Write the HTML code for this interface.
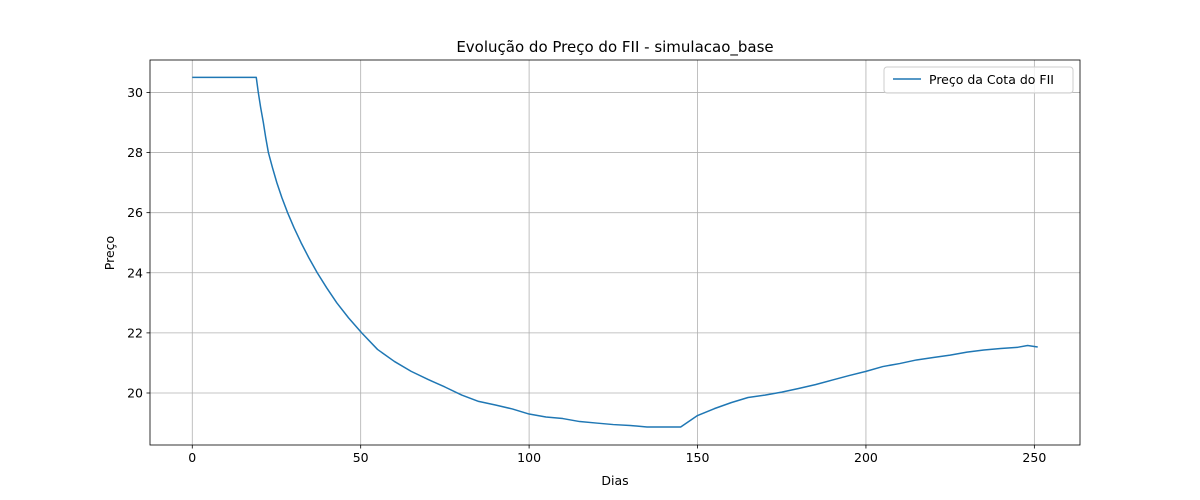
<!DOCTYPE html>
<html><head><meta charset="utf-8"><style>body{margin:0;background:#fff}svg{display:block;font-family:"DejaVu Sans","Liberation Sans",sans-serif}</style></head>
<body>
<svg id="chart" width="1200" height="500" xmlns="http://www.w3.org/2000/svg"></svg>
<script>
const days=[0,19,19.6,20.3,21.1,21.8,22.6,23.8,25.1,26.6,28.3,30.2,32.3,34.6,37.1,39.9,42.9,46.4,50.3,55,60,65,70,75,80,85,90,95,100,105,110,115,120,125,130,135,140,145,150,155,160,165,170,175,180,185,190,195,200,205,210,215,220,225,230,235,240,245,248,251];
const prices=[30.5,30.5,30.0,29.5,29.0,28.5,28.0,27.5,27.0,26.5,26.0,25.5,25.0,24.5,24.0,23.5,23.0,22.5,22.0,21.45,21.05,20.72,20.45,20.2,19.93,19.72,19.6,19.47,19.3,19.2,19.15,19.05,19.0,18.95,18.92,18.87,18.87,18.87,19.25,19.48,19.68,19.85,19.93,20.03,20.15,20.28,20.43,20.58,20.72,20.88,20.98,21.1,21.18,21.26,21.36,21.43,21.48,21.52,21.58,21.53];
const xTicks=[0,50,100,150,200,250];
const yTicks=[20,22,24,26,28,30];
const L=150,R=1080,T=60,B=445,x0=-12.55,x1=263.55,y0=18.27,y1=31.08;
const sx=v=>L+(v-x0)/(x1-x0)*(R-L), sy=v=>B-(v-y0)/(y1-y0)*(B-T);
const svg=document.getElementById('chart');const NS='http://www.w3.org/2000/svg';
function mk(t,a,p){const e=document.createElementNS(NS,t);for(const k in a)e.setAttribute(k,a[k]);(p||svg).appendChild(e);return e;}
xTicks.forEach(v=>{const x=sx(v);
const g=mk('line',{x1:x,x2:x,y1:T,y2:B,stroke:'#b0b0b0','stroke-width':0.8});


mk('line',{x1:x,x2:x,y1:B,y2:B+3.5,stroke:'#000','stroke-width':0.8});
const t=mk('text',{x:x,y:B+17,'text-anchor':'middle','font-size':12.5});t.textContent=v;

});
yTicks.forEach(v=>{const y=sy(v);
const g=mk('line',{x1:L,x2:R,y1:y,y2:y,stroke:'#b0b0b0','stroke-width':0.8});


mk('line',{x1:L-3.5,x2:L,y1:y,y2:y,stroke:'#000','stroke-width':0.8});
const t=mk('text',{x:L-7,y:y+4.5,'text-anchor':'end','font-size':12.5});t.textContent=v;

});
const pts=days.map((d,i)=>sx(d)+','+sy(prices[i])).join(' ');
const line=mk('polyline',{points:pts,fill:'none',stroke:'#1f77b4','stroke-width':1.5,'stroke-linejoin':'round'});


mk('rect',{x:L,y:T,width:R-L,height:B-T,fill:'none',stroke:'#000','stroke-width':0.8});
</script>
<svg style="position:absolute;left:0;top:0" width="1200" height="500" xmlns="http://www.w3.org/2000/svg" font-family="DejaVu Sans, Liberation Sans, sans-serif">
<text x="615" y="52" text-anchor="middle" font-size="15">Evolução do Preço do FII - simulacao_base</text>
<text x="615" y="485" text-anchor="middle" font-size="12.5">Dias</text>
<text transform="translate(114,253) rotate(-90)" text-anchor="middle" font-size="12.5">Preço</text>
<g>
<rect x="884" y="67" width="189" height="26" rx="3" fill="#fff" fill-opacity="0.8" stroke="#ccc"/>
<line x1="893" x2="921" y1="79" y2="79" stroke="#1f77b4" stroke-width="1.5"/>
<text x="929" y="84" font-size="12.5">Preço da Cota do FII</text>
</g>
</svg>
</body></html>
